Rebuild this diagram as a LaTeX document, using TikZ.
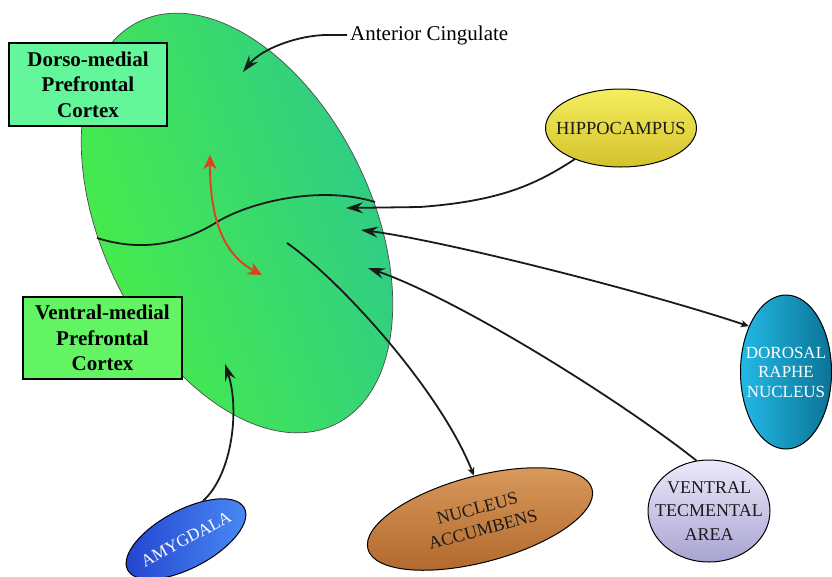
\documentclass[tikz,border=0pt]{standalone}
\usepackage{fontspec}
\setmainfont{Liberation Serif}
\usetikzlibrary{shapes.geometric,arrows.meta}
\definecolor{pfcgreen}{HTML}{4AF042}
\definecolor{pfcteal}{HTML}{2CC88E}
\definecolor{dmcol}{HTML}{64F69A}
\definecolor{vmcol}{HTML}{62F462}
\definecolor{hipT}{HTML}{F4EE5E}
\definecolor{hipB}{HTML}{D4C22C}
\definecolor{drnL}{HTML}{22BAE6}
\definecolor{drnR}{HTML}{0B7396}
\definecolor{vtaT}{HTML}{ECEAFA}
\definecolor{vtaB}{HTML}{A8A3D2}
\definecolor{naT}{HTML}{DA9C5E}
\definecolor{naB}{HTML}{B0662A}
\definecolor{amyL}{HTML}{2342CE}
\definecolor{amyR}{HTML}{4A8CF6}
\definecolor{redarrow}{HTML}{E0401E}
\definecolor{ink}{HTML}{1A1A1A}
\tikzset{
  BigTip/.tip={Stealth[length=17pt,width=11pt,inset=6pt]},
  SmallTip/.tip={Stealth[length=8pt,width=7pt,inset=2pt]},
  RedTip/.tip={Stealth[length=14pt,width=13pt,inset=4pt]}
}
\begin{document}
\begin{tikzpicture}[x=1pt,y=-1pt,
  conn/.style={line width=1.8pt, draw=ink},
  redarr/.style={line width=1.9pt, draw=redarrow, color=redarrow},
  box/.style={draw=black, line width=1.5pt, inner sep=0pt, align=center,
    font=\bfseries\fontsize{21}{25.5}\selectfont},
  ell/.style={ellipse, draw=black, line width=1pt, inner sep=-40pt, align=center}
]
\useasboundingbox (0,0) rectangle (832,576);

% prefrontal cortex
\node[ellipse, draw=black!70, line width=0.7pt, minimum width=269pt, minimum height=448pt,
  inner sep=0pt, rotate=26, top color=pfcteal, bottom color=pfcgreen, shading angle=-71]
  (pfc) at (237,223) {};

% dividing curve
\draw[conn] (97,238) .. controls (135,250) and (175,248) .. (217,222)
  .. controls (250,202) and (320,185) .. (375,202);

% boxes
\node[box, fill=dmcol, minimum width=158pt, minimum height=83pt] (dm) at (88,84.5)
  {Dorso-medial\\Prefrontal\\Cortex};
\node[box, fill=vmcol, minimum width=159pt, minimum height=82pt] (vm) at (102.5,338)
  {Ventral-medial\\Prefrontal\\Cortex};

% label
\node[anchor=west, inner sep=3pt, font=\fontsize{21}{25}\selectfont] (ac) at (347,35)
  {Anterior Cingulate};

% regions
\node[ell, top color=hipT, bottom color=hipB, minimum width=151pt, minimum height=78pt,
  font=\fontsize{18.5}{20}\selectfont, text=ink] (hip) at (621,128) {HIPPOCAMPUS};
\node[ell, left color=drnL, right color=drnR, minimum width=91pt, minimum height=154pt,
  text=white, font=\fontsize{17}{19.5}\selectfont] (drn) at (786,372) {DOROSAL\\RAPHE\\NUCLEUS};
\node[ell, top color=vtaT, bottom color=vtaB, minimum width=122pt, minimum height=102pt,
  text=ink, font=\fontsize{18}{23.5}\selectfont] (vta) at (709,511) {VENTRAL\\TECMENTAL\\AREA};
\node[ell, rotate=15, top color=naT, bottom color=naB, minimum width=232pt, minimum height=86pt,
  text=ink, font=\fontsize{18}{22}\selectfont] (nacc) at (480,519) {NUCLEUS\\ACCUMBENS};
\node[ell, rotate=28, left color=amyL, right color=amyR, minimum width=132pt, minimum height=58pt,
  text=white, font=\fontsize{17}{20}\selectfont] (amy) at (186,539) {AMYGDALA};

% free ends inside the cortex
\coordinate (actip) at (243,72);
\coordinate (hiptip) at (346,208);
\coordinate (drntip) at (361,230);
\coordinate (vtatip) at (368,268);
\coordinate (nacctail) at (287,243);
\coordinate (amytip) at (225,364);
\coordinate (redtop) at (210,155);
\coordinate (redbot) at (262,275);

% connectors
\draw[conn,-BigTip] (ac.west) -- ++(-20,0) .. controls (300,35) and (262,48) .. (actip);
\draw[conn,-BigTip] (hip.214) .. controls (535,185) and (500,201) .. (420,207) -- (hiptip);
\draw[conn,SmallTip-BigTip] (drn.129) .. controls (640,290) and (440,240) .. (drntip);
\draw[conn,-BigTip] (vta.104) .. controls (620,400) and (460,300) .. (vtatip);
\draw[conn,-SmallTip] (nacctail) .. controls (340,280) and (440,390) .. (nacc.83);
\draw[conn,-BigTip] (amy.38) .. controls (232,475) and (240,410) .. (amytip);
\draw[redarr,RedTip-RedTip] (redtop) .. controls (210,200) and (215,250) .. (redbot);
\end{tikzpicture}
\end{document}
